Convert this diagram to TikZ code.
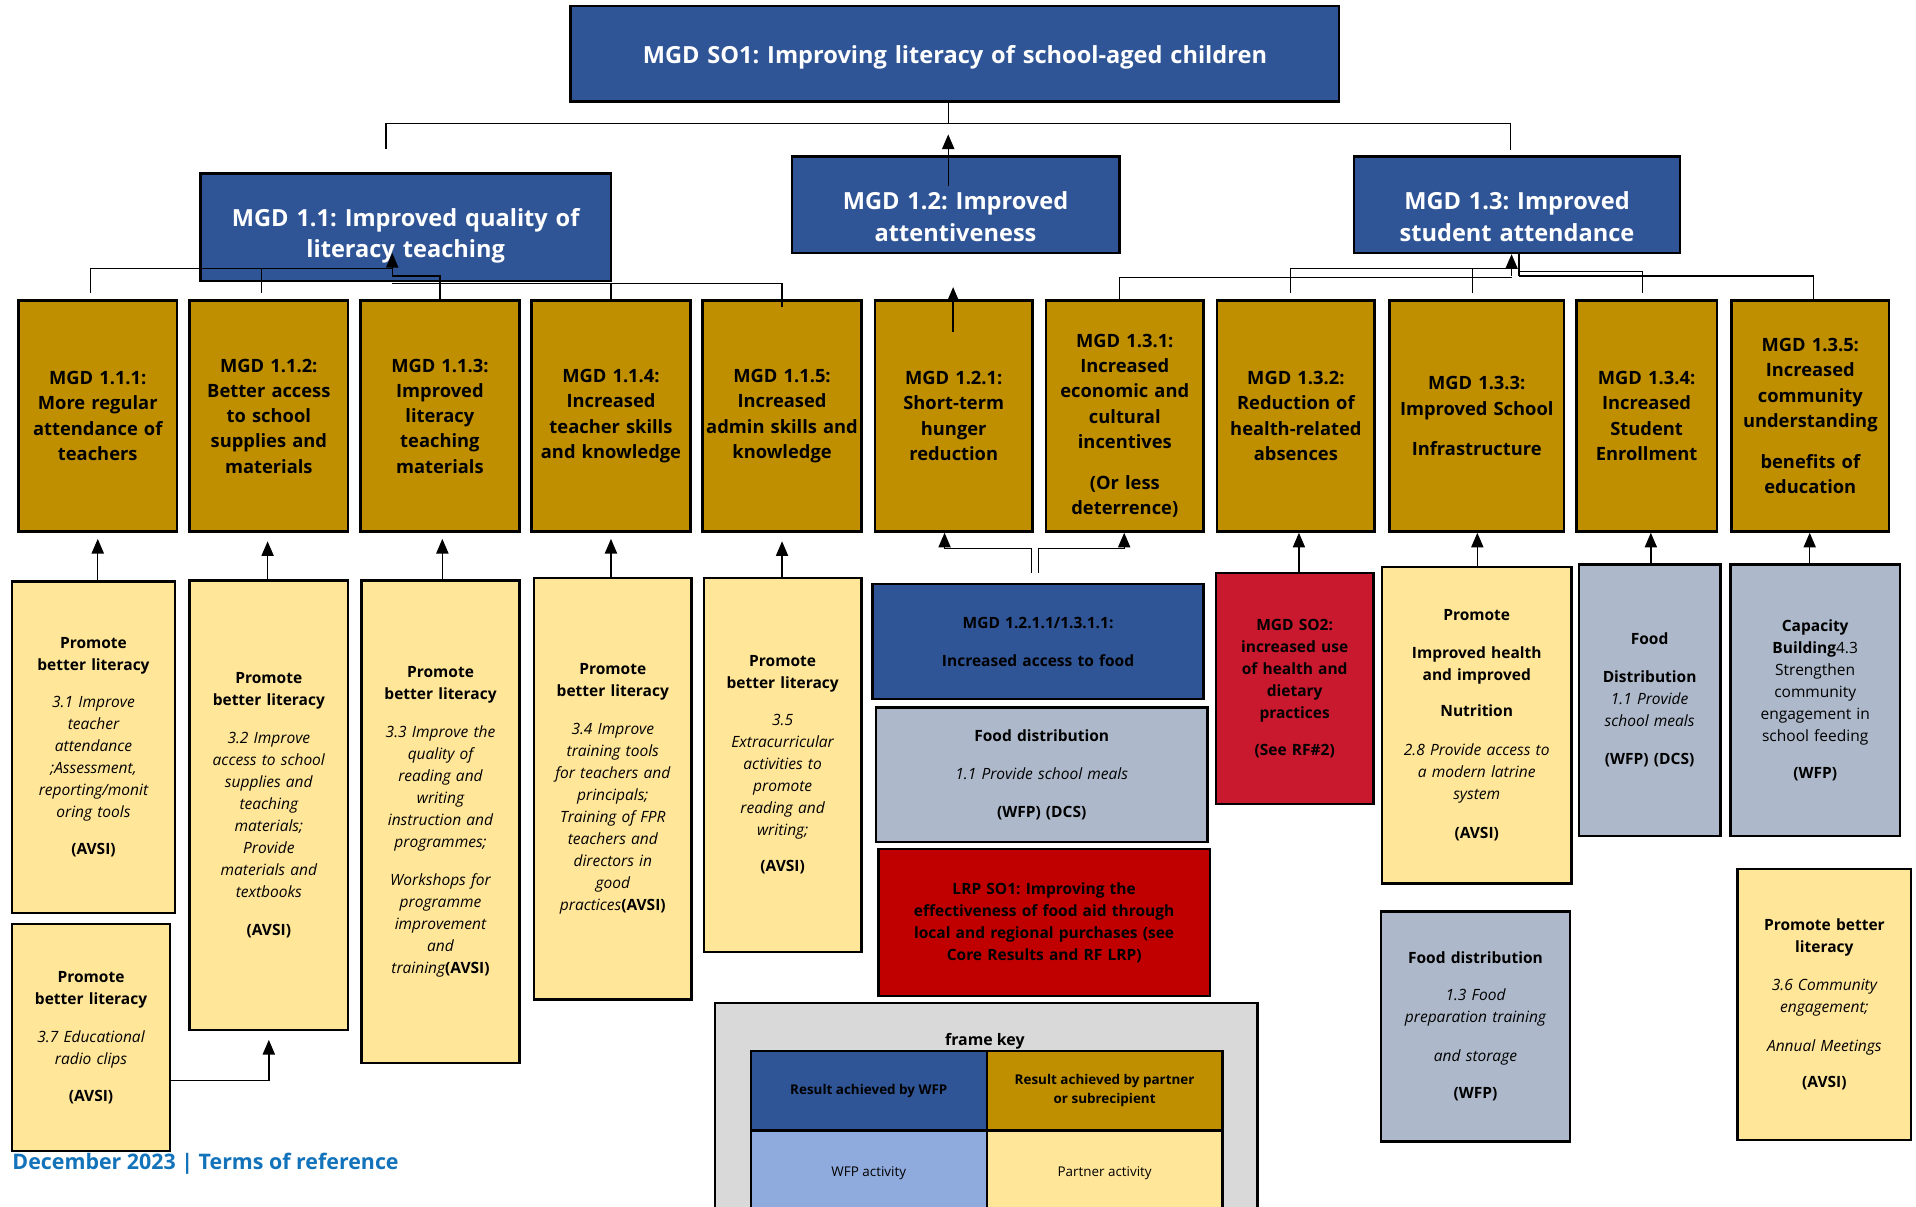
\documentclass[tikz,border=0pt]{standalone}
\usepackage{fontspec}
\setmainfont{Open Sans}
\frenchspacing
\usetikzlibrary{arrows.meta}
\definecolor{mgdblue}{HTML}{2F5597}
\definecolor{mgdgold}{HTML}{BF8F00}
\definecolor{partner}{HTML}{FFE699}
\definecolor{wfpgrey}{HTML}{ADB9CA}
\definecolor{lrpred}{HTML}{C00000}
\definecolor{sored}{HTML}{C9192E}
\definecolor{keyblue}{HTML}{8FAADC}
\definecolor{keygrey}{HTML}{D9D9D9}
\definecolor{footblue}{HTML}{1272BA}
\newcommand\bx[7]{%
\pgfmathsetmacro\myBW{#5-(#3)}%
\pgfmathsetmacro\myBH{#6-(#4)}%
\pgfmathsetmacro\myCX{(#3+#5)/2}%
\pgfmathsetmacro\myCY{(#4+#6)/2}%
\pgfmathsetmacro\myTW{#5-(#3)-3}%
\node[#2, minimum width=\myBW pt, minimum height=\myBH pt, text width=\myTW pt] (#1) at (\myCX,\myCY) {#7};}
% box whose text sits #8 pt lower than the centre
\newcommand\bxt[8]{%
\pgfmathsetmacro\myBW{#5-(#3)}%
\pgfmathsetmacro\myBH{#6-(#4)}%
\pgfmathsetmacro\myCX{(#3+#5)/2}%
\pgfmathsetmacro\myCY{(#4+#6)/2}%
\pgfmathsetmacro\myTY{(#4+#6)/2+#8}%
\pgfmathsetmacro\myTW{#5-(#3)-3}%
\node[#2, minimum width=\myBW pt, minimum height=\myBH pt] (#1) at (\myCX,\myCY) {};
\node[#2, draw=none, fill=none, text width=\myTW pt] (#1t) at (\myCX,\myTY) {#7};}
\begin{document}
\begin{tikzpicture}[x=1pt,y=-1pt,
 bb/.style={draw=black,line width=2pt,align=center,inner sep=0pt},
 toph/.style={bb,fill=mgdblue,text=white,font=\bfseries\fontsize{19.3}{26}\selectfont},
 res/.style={bb,fill=mgdgold,font=\bfseries\fontsize{15}{20.7}\selectfont},
 act/.style={bb,fill=partner,font=\fontsize{12.7}{18}\selectfont},
 wact/.style={bb,fill=wfpgrey,font=\fontsize{12.7}{18}\selectfont},
 fooda/.style={bb,fill=mgdblue,font=\bfseries\fontsize{12.7}{18}\selectfont},
 lrpbox/.style={bb,fill=lrpred,font=\bfseries\fontsize{12.7}{18}\selectfont},
 sobox/.style={bb,fill=sored,font=\bfseries\fontsize{12.7}{18}\selectfont},
 keycell/.style={draw=black,line width=2pt,align=center,inner sep=0pt,font=\fontsize{11}{16}\selectfont},
 conn/.style={draw=black,line width=1.1pt},
 arr/.style={conn,-{Triangle[length=12pt,width=10pt]}},
]
\useasboundingbox (0,0) rectangle (1568,987);
\fill[white] (0,0) rectangle (1568,987);
\clip (0,0) rectangle (1568,987);

% level 0 and 1
\bxt{top}{toph}{467}{5}{1096}{83}{MGD SO1: Improving literacy of school-aged children}{3}
\bxt{b11}{toph}{164}{142}{500}{230}{MGD 1.1: Improved quality of\\literacy teaching}{7}
\bxt{b12}{toph}{648}{128}{916}{207}{MGD 1.2: Improved\\attentiveness}{10}
\bxt{b13}{toph}{1108}{128}{1375}{207}{MGD 1.3: Improved\\student attendance}{10}

% results
\bx{r111}{res}{15}{246}{145}{435}{MGD 1.1.1:\\More regular\\attendance of\\teachers}
\bx{r112}{res}{155}{246}{285}{435}{MGD 1.1.2:\\Better access\\to school\\supplies and\\materials}
\bx{r113}{res}{295}{246}{425}{435}{MGD 1.1.3:\\Improved\\literacy\\teaching\\materials}
\bx{r114}{res}{435}{246}{565}{435}{MGD 1.1.4:\\Increased\\teacher skills\\and knowledge}
\bx{r115}{res}{575}{246}{705}{435}{MGD 1.1.5:\\Increased\\admin skills and\\knowledge}
\bx{r121}{res}{716}{246}{845}{435}{MGD 1.2.1:\\Short-term\\hunger\\reduction}
\bxt{r131}{res}{856}{246}{985}{435}{MGD 1.3.1:\\Increased\\economic and\\cultural\\incentives\\[13pt](Or less\\deterrence)}{8}
\bx{r132}{res}{996}{246}{1125}{435}{MGD 1.3.2:\\Reduction of\\health-related\\absences}
\bx{r133}{res}{1137}{246}{1280}{435}{MGD 1.3.3:\\Improved School\\[12pt]Infrastructure}
\bx{r134}{res}{1290}{246}{1405}{435}{MGD 1.3.4:\\Increased\\Student\\Enrollment}
\bx{r135}{res}{1417}{246}{1546}{435}{MGD 1.3.5:\\Increased\\community\\understanding\\[13pt]benefits of\\education}

% activities
\bx{a31}{act}{10}{476}{143}{747}{{\bfseries Promote\\better literacy}\\[12pt]{\itshape 3.1 Improve\\teacher\\attendance\\;Assessment,\\reporting/monit\\oring tools}\\[12pt]{\bfseries (AVSI)}}
\bx{a32}{act}{155}{475}{285}{843}{{\bfseries Promote\\better literacy}\\[13pt]{\itshape 3.2 Improve\\access to school\\supplies and\\teaching\\materials;\\Provide\\materials and\\textbooks}\\[13pt]{\bfseries (AVSI)}}
\bx{a33}{act}{296}{475}{425}{870}{{\bfseries Promote\\better literacy}\\[13pt]{\itshape 3.3 Improve the\\quality of\\reading and\\writing\\instruction and\\programmes;}\\[13pt]{\itshape Workshops for\\programme\\improvement\\and\\training}{\bfseries(AVSI)}}
\bx{a34}{act}{437}{473}{566}{818}{{\bfseries Promote\\better literacy}\\[13pt]{\itshape 3.4 Improve\\training tools\\for teachers and\\principals;\\Training of FPR\\teachers and\\directors in\\good\\practices}{\bfseries(AVSI)}}
\bx{a35}{act}{576}{473}{705}{779}{{\bfseries Promote\\better literacy}\\[12pt]{\itshape 3.5\\Extracurricular\\activities to\\promote\\reading and\\writing;}\\[12pt]{\bfseries (AVSI)}}
\bx{a37}{act}{10}{756}{139}{942}{{\bfseries Promote\\better literacy}\\[13pt]{\itshape 3.7 Educational\\radio clips}\\[12pt]{\bfseries (AVSI)}}

\bx{food}{fooda}{714}{478}{985}{572}{MGD 1.2.1.1/1.3.1.1:\\[13pt]Increased access to food}
\bx{fd11}{wact}{717}{579}{988}{689}{{\bfseries Food distribution}\\[13pt]{\itshape 1.1 Provide school meals}\\[13pt]{\bfseries (WFP) (DCS)}}
\bx{lrp}{lrpbox}{719}{695}{990}{815}{LRP SO1: Improving the\\effectiveness of food aid through\\local and regional purchases (see\\Core Results and RF LRP)}
\bx{so2}{sobox}{995}{469}{1124}{658}{MGD SO2:\\increased use\\of health and\\dietary\\practices\\[13pt](See RF\#2)}
\bx{a28}{act}{1131}{464}{1286}{723}{{\bfseries Promote\\[13pt]Improved health\\and improved\\[12pt]Nutrition}\\[14pt]{\itshape 2.8 Provide access to\\a modern latrine\\system}\\[14pt]{\bfseries (AVSI)}}
\bx{fd11b}{wact}{1292}{462}{1408}{684}{{\bfseries Food\\[13pt]Distribution}\\{\itshape 1.1 Provide\\school meals}\\[13pt]{\bfseries (WFP) (DCS)}}
\bx{cap}{wact}{1416}{462}{1555}{684}{{\bfseries Capacity\\Building}4.3\\Strengthen\\community\\engagement in\\school feeding\\[12pt]{\bfseries (WFP)}}
\bx{fd13}{wact}{1130}{746}{1285}{934}{{\bfseries Food distribution}\\[12pt]{\itshape 1.3 Food\\preparation training\\[14pt]and storage}\\[12pt]{\bfseries (WFP)}}
\bx{a36}{act}{1422}{711}{1564}{933}{{\bfseries Promote better\\literacy}\\[13pt]{\itshape 3.6 Community\\engagement;\\[14pt]Annual Meetings}\\[12pt]{\bfseries (AVSI)}}

% frame key
\node[draw=black,line width=2pt,fill=keygrey,minimum width=444pt,minimum height=200pt,inner sep=0pt] (keyframe) at (807,921) {};
\node[font=\bfseries\fontsize{13}{16}\selectfont] (keytitle) at (806,853) {\underline{frame key}};
\node[keycell,fill=mgdblue,minimum width=193pt,minimum height=65pt,font=\bfseries\fontsize{11}{16}\selectfont] (k1) at (711,892.5) {Result achieved by WFP};
\node[keycell,fill=mgdgold,minimum width=193pt,minimum height=65pt,font=\bfseries\fontsize{11}{16}\selectfont] (k2) at (904,892.5) {Result achieved by partner\\or subrecipient};
\node[keycell,fill=keyblue,minimum width=193pt,minimum height=70pt] (k3) at (711,960) {WFP activity};
\node[keycell,fill=partner,minimum width=193pt,minimum height=70pt] (k4) at (904,960) {Partner activity};

% footer
\node[anchor=west,inner sep=0pt,text=footblue,font=\bfseries\fontsize{17.5}{20}\selectfont] (foot) at (10,952) {December 2023 | Terms of reference};

% connectors: top tree
\coordinate (tL) at (316,122);
\coordinate (tR) at (1236,123);
\draw[conn] (top.south -| 776,0) -- (776,101);
\draw[conn] (tL) -- (316,101) -- (1236,101) -- (tR);
\draw[arr] (776,152) -- (776,110);

% 1.1 tree
\draw[conn] (74,240) -- (74,220) -- (321,220);
\draw[conn] (214,220) -- (214,240);
\draw[arr] (321,226) -- (321,207);
\draw[conn] (321,226) -- (360,226) -- (r113.north -| 360,0);
\draw[conn] (321,232) -- (640,232) -- (640,251);
\draw[conn] (500,232) -- (r114.north -| 500,0);

% 1.2
\draw[arr] (780,272) -- (780,235);

% 1.3 tree
\draw[arr] (1237,226) -- (b13.south -| 1237,0);
\draw[conn] (1056,240) -- (1056,220) -- (1237,220);
\draw[conn] (r131.north -| 916,0) -- (916,227) -- (1237,227);
\draw[conn] (1205,240) -- (1205,220);
\draw[conn] (b13.south -| 1243,0) -- (1243,226);
\draw[conn] (1243,222) -- (1344,222) -- (1344,240);
\draw[conn] (1243,226) -- (1484,226) -- (r135.north -| 1484,0);

% activity arrows
\draw[arr] (a31.north -| 80,0) -- (80,441);
\draw[arr] (a32.north -| 219,0) -- (219,443);
\draw[arr] (a33.north -| 362,0) -- (362,441);
\draw[arr] (a34.north -| 500,0) -- (500,441);
\draw[arr] (a35.north -| 640,0) -- (640,443);
\draw[arr] (a37.east |- 0,884) -- (220,884) -- (220,851);
\draw[arr] (844,469) -- (844,449) -- (773,449) -- (r121.south -| 773,0);
\draw[arr] (850,469) -- (850,449) -- (920,449) -- (r131.south -| 920,0);
\draw[arr] (so2.north -| 1063,0) -- (r132.south -| 1063,0);
\draw[arr] (a28.north -| 1209,0) -- (r133.south -| 1209,0);
\draw[arr] (fd11b.north -| 1351,0) -- (r134.south -| 1351,0);
\draw[arr] (cap.north -| 1481,0) -- (r135.south -| 1481,0);
\end{tikzpicture}
\end{document}
